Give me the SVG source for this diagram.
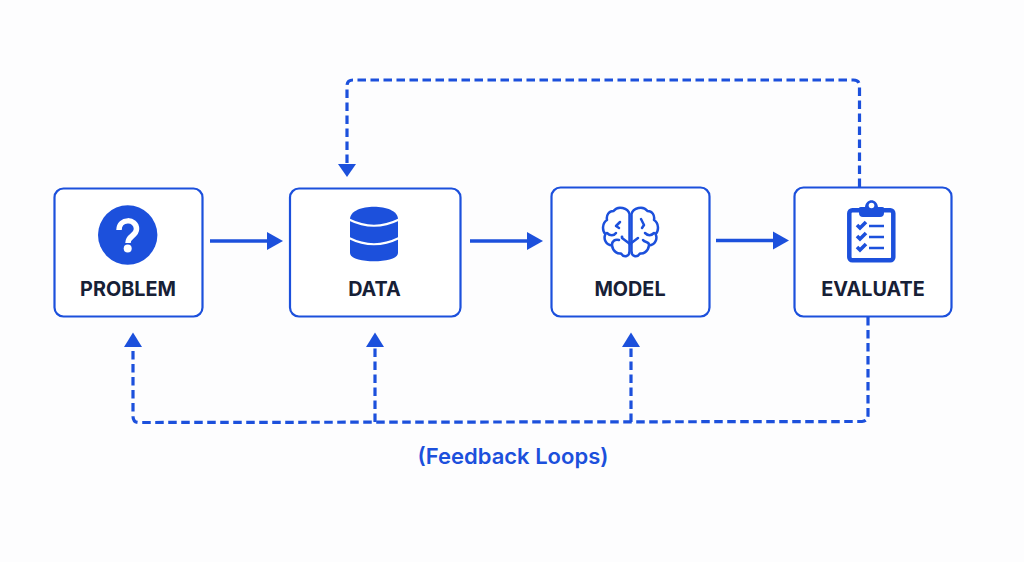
<svg xmlns="http://www.w3.org/2000/svg" width="1024" height="562" viewBox="0 0 1024 562">
<style>
.box{fill:#fff;stroke:#1c50dc;stroke-width:2.200}
.lbl{font-family:"Inter","Liberation Sans",sans-serif;font-weight:700;font-size:19.800px;fill:#172036;text-anchor:middle}
.solid{fill:none;stroke:#1c50dc;stroke-width:3.400}
.dash{fill:none;stroke:#1c50dc;stroke-width:3.200;stroke-dasharray:8.500 4.500}
.head{fill:#1c50dc}
.ic{fill:none;stroke:#1c50dc;stroke-width:2.500;stroke-linecap:round;stroke-linejoin:round}
</style>
<rect width="1024" height="562" fill="#fdfdfe"/>
<g id="connectors">
<path class="solid" d="M210 241H270"/><polygon class="head" points="267,232 283,241 267,250"/>
<path class="solid" d="M470 241H530"/><polygon class="head" points="527,232 543,241 527,250"/>
<path class="solid" d="M716 240.500H776"/><polygon class="head" points="773,231.500 789,240.500 773,249.500"/>
<path class="dash" d="M859.500 187V86Q859.500 80 853.500 80H353Q347 80 347 86V166"/>
<polygon class="head" points="338,164 356,164 347,177"/>
<path class="dash" d="M868 317V415Q868 421 862 421.500L139 422.500Q133 422.500 133 416V345"/>
<polygon class="head" points="124,347 142,347 133,332.500"/>
<path class="dash" d="M375 422V345"/><polygon class="head" points="366,347 384,347 375,332.500"/>
<path class="dash" d="M631 422V345"/><polygon class="head" points="622,347 640,347 631,332.500"/>
</g>
<g id="problem">
<rect class="box" x="54.500" y="188.500" width="148" height="128" rx="9"/>
<circle cx="127.700" cy="235" r="29.700" fill="#1c50dc"/>
<path d="M119 230C119 218 136.500 218 136.500 229C136.500 236 128 235.500 128 243" fill="none" stroke="#fff" stroke-width="5.500"/>
<circle cx="127.700" cy="248.500" r="4" fill="#fff"/>
<text class="lbl" x="128" y="295.500">PROBLEM</text>
</g>
<g id="data">
<rect class="box" x="290" y="188.500" width="170.500" height="128" rx="9"/>
<path class="head" d="M350 219C350 202.500 398 202.500 398 219V253C398 264 350 264 350 253Z"/>
<path d="M349 219.500Q374 232 399 219.500M349 238Q374 250.500 399 238" fill="none" stroke="#fff" stroke-width="2.200"/>
<text class="lbl" x="374.500" y="295.500">DATA</text>
</g>
<g id="model">
<rect class="box" x="551.500" y="187.500" width="158" height="129" rx="9"/>
<path class="ic" d="M629.500 214C628 208 618 205 613.500 211C609 211 606 215 607 220C602 223 602 231 605.500 234C603 239 606 245 612 245.500C613 252 618 254 621 253.500C624 258 630 257 629.500 250Z"/>
<path class="ic" d="M631.500 214C633 208 643 205 647.500 211C652 211 655 215 654 220C659 223 659 231 655.500 234C658 239 655 245 649 245.500C648 252 643 254 640 253.500C637 258 631 257 631.500 250Z"/>
<path class="ic" d="M620 222L616 226L619 228M607 233C610 236 614 236 616 233M612 245C612 241 615 239 619 240M641 219L644 225L642 228M654 233C651 236 648 236 645 233M649 245C649 241 645 243 643 240M630 244L622 238M630 244L638 238"/>
<circle cx="622" cy="237" r="1.400" fill="#1c50dc"/>
<text class="lbl" x="630" y="295.500">MODEL</text>
</g>
<g id="evaluate">
<rect class="box" x="794.500" y="187.500" width="157" height="129" rx="9"/>
<rect x="849.300" y="210.300" width="44" height="50" rx="3" fill="#fff" stroke="#1c50dc" stroke-width="4.500"/>
<path class="head" d="M859 213V208Q859 207 861 207H865C866 198 877 198 878 207H882Q884 207 884 208V213Q884 217 880 217H863Q859 217 859 213Z"/>
<circle cx="871.500" cy="205.500" r="2.800" fill="#fff"/>
<path d="M857 225L860 228L866 222M857 236L860 239L866 233M857 247L860 250L866 244" fill="none" stroke="#1c50dc" stroke-width="3.600"/>
<path d="M869 226H884M869 237H884M869 248H884" fill="none" stroke="#1c50dc" stroke-width="2.600"/>
<text class="lbl" x="873" y="295.500">EVALUATE</text>
</g>
<text x="513" y="464" font-family="Inter,'Liberation Sans',sans-serif" font-weight="600" font-size="22" fill="#1c50dc" text-anchor="middle">(Feedback Loops)</text>
</svg>
